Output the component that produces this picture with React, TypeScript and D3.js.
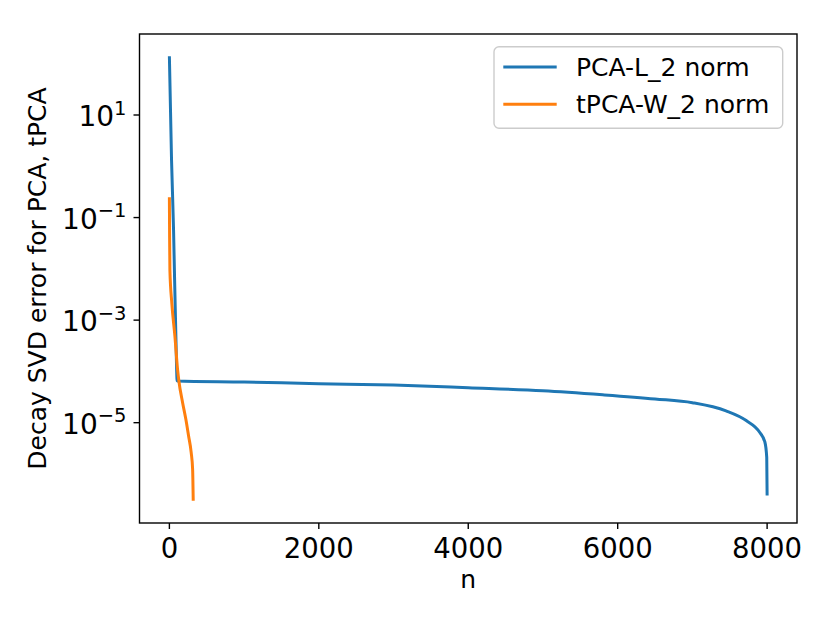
import * as d3 from "d3";

// PCA-L_2 norm series (n, error)
const pcaN = [0, 29, 56, 70, 87, 104, 1000, 2000, 3000, 4000, 5000, 5800, 6500, 7000, 7450, 7720, 7900, 7970, 7995, 8000];
const pcaErr = [140, 1.3, 0.056, 6.0e-3, 4.8e-4, 6.5e-5, 6.2e-5, 5.75e-5, 5.4e-5, 4.8e-5, 4.2e-5, 3.5e-5, 2.9e-5, 2.45e-5, 1.7e-5, 1.1e-5, 6.5e-6, 4.2e-6, 2.1e-6, 3.8e-7];

// tPCA-W_2 norm series (n, error)
const tpcaN = [0, 3, 7, 33, 74, 110, 127, 177, 221, 257, 292, 311, 319];
const tpcaErr = [0.25, 0.04, 9.3e-3, 2.1e-3, 4.8e-4, 1.07e-4, 6.5e-5, 2.45e-5, 1.15e-5, 5.5e-6, 2.6e-6, 1.23e-6, 3.0e-7];

const xTicks = [0, 2000, 4000, 6000, 8000];
const yTickExps = [1, -1, -3, -5];

const seriesNames = ["PCA-L_2 norm", "tPCA-W_2 norm"];
const colors = ["#1f77b4", "#ff7f0e"];

const W = 830;
const H = 623;
const m = { left: 139.5, top: 34, right: 797, bottom: 523 };
const font = "DejaVu Sans, sans-serif";

export default function App() {
  const pca = pcaN.map((n, i) => ({ n, v: pcaErr[i] }));
  const tpca = tpcaN.map((n, i) => ({ n, v: tpcaErr[i] }));
  const all = [...pca, ...tpca];

  const [x0, x1] = d3.extent(all, (d) => d.n) as [number, number];
  const xPad = (x1 - x0) * 0.05;
  const x = d3.scaleLinear().domain([x0 - xPad, x1 + xPad]).range([m.left, m.right]);

  const lo = Math.log10(d3.min(all, (d) => d.v) as number);
  const hi = Math.log10(d3.max(all, (d) => d.v) as number);
  const yPad = (hi - lo) * 0.05;
  const y = d3
    .scaleLog()
    .domain([Math.pow(10, lo - yPad), Math.pow(10, hi + yPad)])
    .range([m.bottom, m.top]);

  const line = d3
    .line<{ n: number; v: number }>()
    .x((d) => x(d.n))
    .y((d) => y(d.v))
    .curve(d3.curveMonotoneX);

  return (
    <div style={{ position: "absolute", left: 0, top: 0 }}>
      <svg width={W} height={H} style={{ display: "block", background: "#fff" }} fontFamily={font}>
        <defs>
          <clipPath id="plot">
            <rect x={m.left} y={m.top} width={m.right - m.left} height={m.bottom - m.top} />
          </clipPath>
        </defs>
        <g clipPath="url(#plot)" fill="none" strokeWidth={3} strokeLinejoin="round" strokeLinecap="butt">
          <path d={line(pca) || ""} stroke={colors[0]} />
          <path d={line(tpca) || ""} stroke={colors[1]} />
        </g>

        {/* spines */}
        <rect
          x={m.left}
          y={m.top}
          width={m.right - m.left}
          height={m.bottom - m.top}
          fill="none"
          stroke="#000"
          strokeWidth={1.4}
        />

        {/* x ticks */}
        {xTicks.map((t) => (
          <g key={t} transform={`translate(${x(t)},${m.bottom})`}>
            <line y1={0} y2={6} stroke="#000" strokeWidth={1.4} />
            <text y={35} textAnchor="middle" fontSize={27.5} fill="#000">
              {t}
            </text>
          </g>
        ))}

        {/* y ticks */}
        {yTickExps.map((e) => (
          <g key={e} transform={`translate(${m.left},${y(Math.pow(10, e))})`}>
            <line x1={0} x2={-6} stroke="#000" strokeWidth={1.4} />
            <text x={-13} y={11} textAnchor="end" fontSize={28} fill="#000">
              10
              <tspan fontSize={19.5} dy={-11.5}>
                {e < 0 ? `\u2212${-e}` : `${e}`}
              </tspan>
            </text>
          </g>
        ))}

        {/* axis labels */}
        <text x={(m.left + m.right) / 2} y={588} textAnchor="middle" fontSize={25} fill="#000">
          n
        </text>
        <text
          transform={`translate(46,${(m.top + m.bottom) / 2}) rotate(-90)`}
          textAnchor="middle"
          fontSize={25}
          fill="#000"
        >
          Decay SVD error for PCA, tPCA
        </text>

        {/* legend */}
        <rect x={494} y={46.7} width={288.7} height={81.6} rx={5} fill="#fff" fillOpacity={0.8} stroke="#cccccc" strokeWidth={1.4} />
        {seriesNames.map((s, i) => (
          <g key={s} transform={`translate(0,${67 + i * 37.3})`}>
            <line x1={503.3} x2={556.7} stroke={colors[i]} strokeWidth={3} />
            <text x={576} y={9} fontSize={25} fill="#000">
              {s}
            </text>
          </g>
        ))}
      </svg>
    </div>
  );
}
